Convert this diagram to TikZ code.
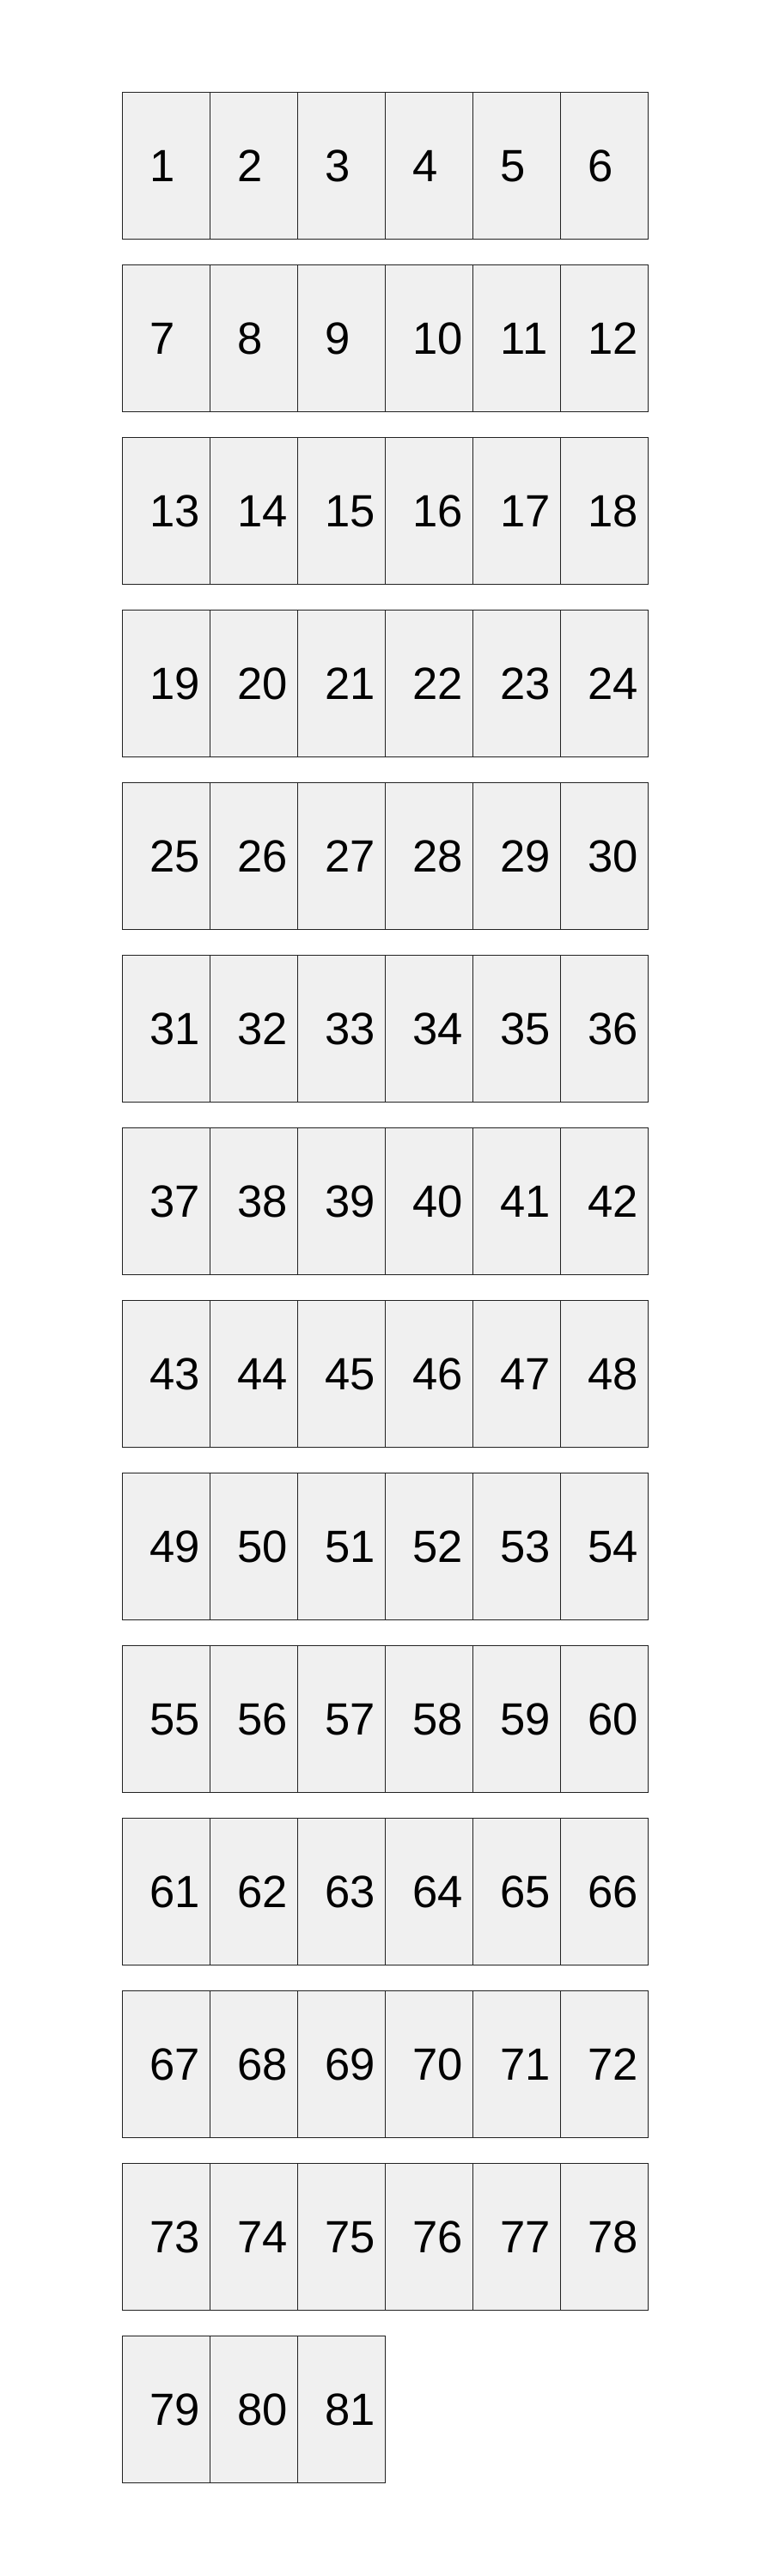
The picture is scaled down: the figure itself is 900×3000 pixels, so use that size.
\documentclass[tikz,border=0pt]{standalone}
\usepackage{fontspec}
\setmainfont{Liberation Sans}
\usepackage{tikz}
\definecolor{cellgray}{HTML}{F0F0F0}
\definecolor{cellline}{HTML}{222222}

\begin{document}
\begin{tikzpicture}[x=1pt,y=1pt,
	cell/.style={draw=cellline,fill=cellgray,line width=1pt,minimum width=102pt,minimum height=171pt,inner sep=0pt},
	num/.style={anchor=west,xshift=33pt,inner sep=0pt,font=\fontsize{52.6}{60}\selectfont}]
	\useasboundingbox (0,0) rectangle (900,3000);
	\foreach \n in {1,...,81}{
		\pgfmathtruncatemacro\row{int((\n-1)/6)}
		\pgfmathtruncatemacro\col{mod(\n-1,6)}
		\node[cell,label={[num]west:\n}] (c\n) at ({193+102*\col},{2806.5-201*\row}) {};
	}
\end{tikzpicture}
\end{document}
